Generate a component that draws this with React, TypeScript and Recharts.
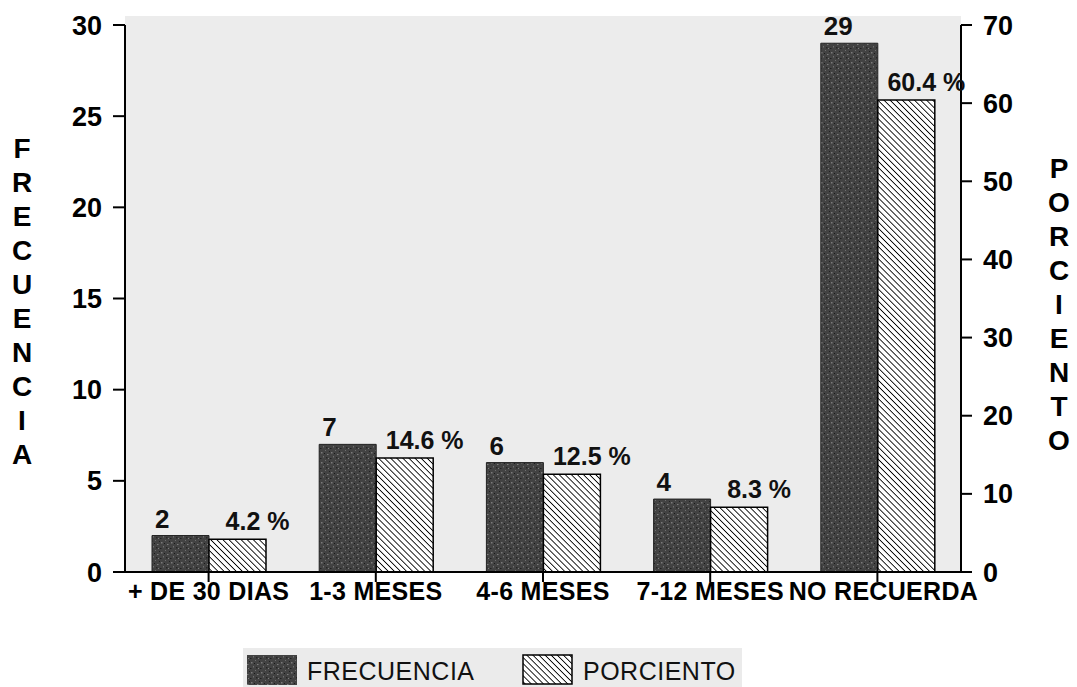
import React from 'react';
import { BarChart, Bar, XAxis, YAxis, LabelList } from 'recharts';

const categories = ['+ DE 30 DIAS', '1-3 MESES', '4-6 MESES', '7-12 MESES', 'NO RECUERDA'];
const frecuencia = [2, 7, 6, 4, 29];
const porciento = [4.2, 14.6, 12.5, 8.3, 60.4];
const leftTicks = [0, 5, 10, 15, 20, 25, 30];
const rightTicks = [0, 10, 20, 30, 40, 50, 60, 70];
const leftTitle = 'FRECUENCIA';
const rightTitle = 'PORCIENTO';

const data = categories.map((c, i) => ({ cat: c, frecuencia: frecuencia[i], porciento: porciento[i] }));

const FONT = "'Liberation Sans', Arial, Helvetica, sans-serif";

const Defs = ({ prefix }: { prefix: string }) => (
  <defs>
    <pattern id={`${prefix}dots`} width="10" height="10" patternUnits="userSpaceOnUse">
      <rect width="10" height="10" fill="#424242" />
      <rect x="1" y="2" width="1.5" height="1.5" fill="#7a7a7a" />
      <rect x="5" y="0" width="1" height="1" fill="#6e6e6e" />
      <rect x="7" y="4" width="1.5" height="1" fill="#808080" />
      <rect x="3" y="6" width="1" height="1.5" fill="#707070" />
      <rect x="8" y="8" width="1" height="1" fill="#7c7c7c" />
      <rect x="0" y="8" width="1.5" height="1" fill="#1f1f1f" />
      <rect x="4" y="3" width="1" height="1" fill="#1a1a1a" />
      <rect x="6" y="7" width="1.5" height="1.5" fill="#262626" />
      <rect x="9" y="1" width="1" height="1" fill="#202020" />
    </pattern>
    <pattern id={`${prefix}hatch`} width="4.3" height="4.3" patternUnits="userSpaceOnUse" patternTransform="rotate(45)">
      <rect width="4.3" height="4.3" fill="#ffffff" />
      <line x1="0" y1="0" x2="4.3" y2="0" stroke="#000" strokeWidth="1.7" />
    </pattern>
  </defs>
);

const FreqLabel = (props: any) => {
  const { x, y, value } = props;
  return (
    <text x={x + 3} y={y - 8} fontSize={26} fontWeight={700} fontFamily={FONT} fill="#111">
      {value}
    </text>
  );
};

const PctLabel = (props: any) => {
  const { x, y, width, value } = props;
  return (
    <text x={x + width / 2 + 20} y={y - 9} textAnchor="middle" fontSize={25} fontWeight={700} fontFamily={FONT} fill="#111">
      {`${value} %`}
    </text>
  );
};

const CatTick = (props: any) => {
  const { x, y, payload, index } = props;
  const shift = index === categories.length - 1 ? 6 : 0;
  return (
    <text
      x={x + shift}
      y={y + 18}
      textAnchor="middle"
      fontSize={25}
      fontWeight={700}
      fontFamily={FONT}
      fill="#000"
      letterSpacing={0.3}
    >
      {payload.value}
    </text>
  );
};

const VerticalTitle = ({ text, left, top }: { text: string; left: number; top: number }) => (
  <div
    style={{
      position: 'absolute',
      left,
      top,
      width: 40,
      fontFamily: FONT,
      fontWeight: 700,
      fontSize: 28,
      lineHeight: '34px',
      textAlign: 'center',
      color: '#000',
    }}
  >
    {text.split('').map((ch, i) => (
      <div key={i}>{ch}</div>
    ))}
  </div>
);

export default function App() {
  const tickStyle = { fontSize: 27, fontWeight: 700, fill: '#000', fontFamily: FONT };
  return (
    <div style={{ position: 'absolute', left: 0, top: 0, width: 1077, height: 687, background: '#fff', overflow: 'hidden' }}>
      <div style={{ position: 'absolute', left: 125, top: 16, width: 836, height: 556, background: '#ececec' }} />
      <div style={{ position: 'absolute', left: 0, top: 0 }}>
        <BarChart
          width={1077}
          height={687}
          data={data}
          margin={{ top: 25, right: 0, bottom: 0, left: 0 }}
          barGap={0}
        >
          <Defs prefix="c-" />
          <XAxis
            dataKey="cat"
            height={115}
            axisLine={{ stroke: '#000', strokeWidth: 2 }}
            tickLine={{ stroke: '#000', strokeWidth: 2 }}
            tickSize={10}
            tickMargin={0}
            interval={0}
            tick={<CatTick />}
          />
          <YAxis
            yAxisId="left"
            orientation="left"
            width={125}
            domain={[0, 30]}
            ticks={leftTicks}
            axisLine={{ stroke: '#000', strokeWidth: 2 }}
            tickLine={{ stroke: '#000', strokeWidth: 2 }}
            tickSize={12}
            tickMargin={11}
            tick={tickStyle}
            interval={0}
          />
          <YAxis
            yAxisId="right"
            orientation="right"
            width={116}
            domain={[0, 70]}
            ticks={rightTicks}
            axisLine={{ stroke: '#000', strokeWidth: 2 }}
            tickLine={{ stroke: '#000', strokeWidth: 2 }}
            tickSize={11}
            tickMargin={11}
            tick={tickStyle}
            interval={0}
          />
          <Bar
            yAxisId="left"
            dataKey="frecuencia"
            barSize={57}
            fill="url(#c-dots)"
            stroke="#222"
            strokeWidth={1}
            isAnimationActive={false}
          >
            <LabelList dataKey="frecuencia" content={FreqLabel} />
          </Bar>
          <Bar
            yAxisId="right"
            dataKey="porciento"
            barSize={57}
            fill="url(#c-hatch)"
            stroke="#000"
            strokeWidth={1.5}
            isAnimationActive={false}
          >
            <LabelList dataKey="porciento" content={PctLabel} />
          </Bar>
        </BarChart>
      </div>
      <VerticalTitle text={leftTitle} left={2} top={132} />
      <VerticalTitle text={rightTitle} left={1039} top={152} />
      <div style={{ position: 'absolute', left: 243, top: 648, width: 499, height: 39, background: '#ebebeb' }} />
      <svg style={{ position: 'absolute', left: 0, top: 0 }} width={1077} height={687}>
        <Defs prefix="l-" />
        <rect x={247} y={655} width={50} height={30} fill="url(#l-dots)" />
        <text x={307} y={680} fontSize={25} fontFamily={FONT} fill="#111" letterSpacing={0.5}>FRECUENCIA</text>
        <rect x={523} y={655} width={49} height={29} fill="url(#l-hatch)" stroke="#000" strokeWidth={1.5} />
        <text x={583} y={680} fontSize={25} fontFamily={FONT} fill="#111" letterSpacing={0.5}>PORCIENTO</text>
      </svg>
    </div>
  );
}
